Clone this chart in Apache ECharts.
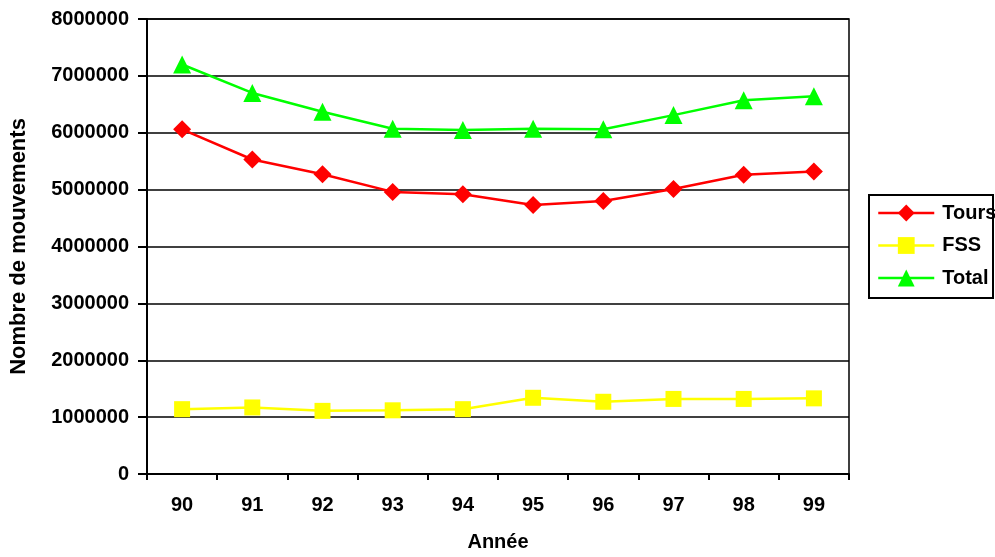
<!DOCTYPE html>
<html><head><meta charset="utf-8">
<script src="https://cdn.jsdelivr.net/npm/echarts@6/dist/echarts.min.js"></script>
<style>html,body{margin:0;padding:0;background:#fff}#c{width:995px;height:557px}</style>
</head><body><div id="c"></div>
<script>
const categories = ['90','91','92','93','94','95','96','97','98','99'];
const tours = [6060000,5530000,5270000,4960000,4920000,4730000,4800000,5010000,5260000,5320000];
const fss = [1140000,1170000,1110000,1120000,1140000,1340000,1270000,1320000,1320000,1330000];
const total = [7200000,6700000,6370000,6070000,6050000,6070000,6060000,6310000,6570000,6640000];
const font = 'Liberation Sans, Arial, sans-serif';
const chart = echarts.init(document.getElementById('c'));
chart.setOption({
  animation:false,
  backgroundColor:'#fff',
  grid:{left:145,right:146,top:19,bottom:81,show:true,borderColor:'#000',borderWidth:1.5,backgroundColor:'transparent'},
  graphic:[{type:'rect',shape:{x:869,y:195,width:124,height:103},style:{fill:null,stroke:'#000',lineWidth:2},z:100}],
  legend:{
    orient:'vertical', left:869, top:195,
    itemWidth:56, itemHeight:21, itemGap:12.5,
    padding:[8,0,6,8],
    borderWidth:0,
    itemStyle:{borderWidth:0},
    lineStyle:{width:2.5},
    textStyle:{fontFamily:font,fontWeight:'bold',fontSize:20,color:'#000',padding:[0,0,0,3]},
    data:['Tours','FSS','Total']
  },
  xAxis:{
    type:'category', data:categories, boundaryGap:true,
    name:'Année', nameLocation:'middle', nameGap:58,
    nameTextStyle:{fontFamily:font,fontWeight:'bold',fontSize:20,color:'#000'},
    axisLine:{lineStyle:{color:'#000',width:2}},
    axisTick:{show:true,alignWithLabel:false,length:6,lineStyle:{color:'#000',width:2}},
    axisLabel:{fontFamily:font,fontWeight:'bold',fontSize:20,color:'#000',margin:21}
  },
  yAxis:{
    type:'value', min:0, max:8000000, interval:1000000,
    name:'Nombre de mouvements', nameLocation:'middle', nameGap:117,
    nameTextStyle:{fontFamily:font,fontWeight:'bold',fontSize:22,color:'#000'},
    axisLine:{show:true,lineStyle:{color:'#000',width:2}},
    axisTick:{show:true,length:9,lineStyle:{color:'#000',width:2}},
    axisLabel:{fontFamily:font,fontWeight:'bold',fontSize:20,color:'#000',margin:18,formatter:v=>String(v)},
    splitLine:{lineStyle:{color:'#000',width:1.5}}
  },
  series:[
    {name:'Tours',type:'line',data:tours,symbol:'diamond',symbolSize:18,
     lineStyle:{color:'#ff0000',width:2.5},itemStyle:{color:'#ff0000'}},
    {name:'FSS',type:'line',data:fss,symbol:'rect',symbolSize:16,
     lineStyle:{color:'#ffff00',width:2.5},itemStyle:{color:'#ffff00'}},
    {name:'Total',type:'line',data:total,symbol:'triangle',symbolSize:18,
     lineStyle:{color:'#00ff00',width:2.5},itemStyle:{color:'#00ff00'}}
  ]
});
</script></body></html>
